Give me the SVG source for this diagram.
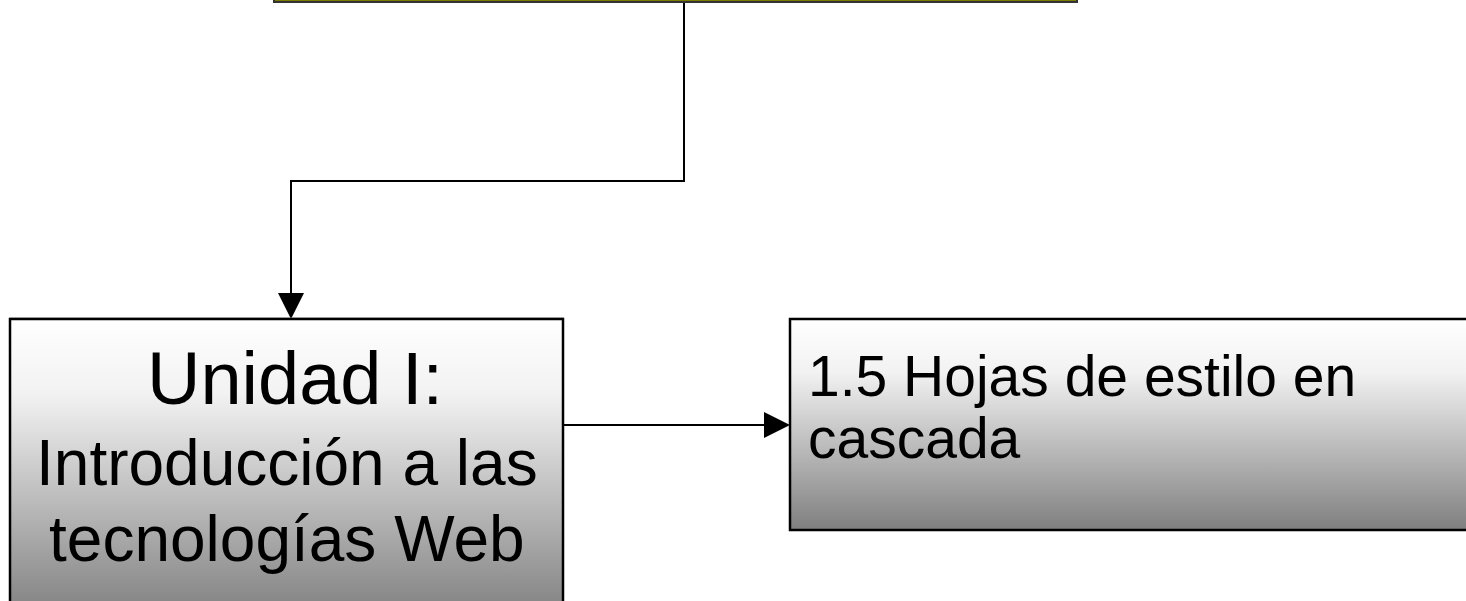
<svg xmlns="http://www.w3.org/2000/svg" width="1466" height="601" viewBox="0 0 1466 601">
<style>
.box{stroke:#000;stroke-width:2.5}
.conn{stroke:#000;stroke-width:2;fill:none}
.t{font-family:"Liberation Sans",Arial,sans-serif;fill:#000}
</style>
<defs>
<linearGradient id="g" x1="0" y1="0" x2="0" y2="1">
<stop offset="0" stop-color="#ffffff"/>
<stop offset="0.25" stop-color="#f2f2f2"/>
<stop offset="1" stop-color="#7f7f7f"/>
</linearGradient>
</defs>
<g id="top">
<rect x="274" y="-20" width="803" height="22" fill="#7a7a00" stroke="#333" stroke-width="2"/>
</g>
<g id="connectors">
<path class="conn" d="M684,3 V181 H291 V294"/>
<path d="M278,293 L304,293 L291,319 z" fill="#000"/>
<path class="conn" d="M563,425 H765"/>
<path d="M764,412 L790,425 L764,438 z" fill="#000"/>
</g>
<g id="unidad">
<rect x="10" y="319" width="553" height="300" fill="url(#g)" stroke="#999" stroke-width="1" transform="translate(0,-1)"/>
<rect class="box" x="10" y="319" width="553" height="300" fill="url(#g)"/>
<text class="t" x="147" y="404" font-size="74">Unidad I:</text>
<text class="t" x="36" y="485" font-size="64">Introducción a las</text>
<text class="t" x="49" y="561" font-size="64">tecnologías Web</text>
</g>
<g id="hojas">
<rect class="box" x="790" y="319" width="700" height="211" fill="url(#g)"/>
<text class="t" x="808" y="396" font-size="57">1.5 Hojas de estilo en</text>
<text class="t" x="808" y="458" font-size="57">cascada</text>
</g>
</svg>
